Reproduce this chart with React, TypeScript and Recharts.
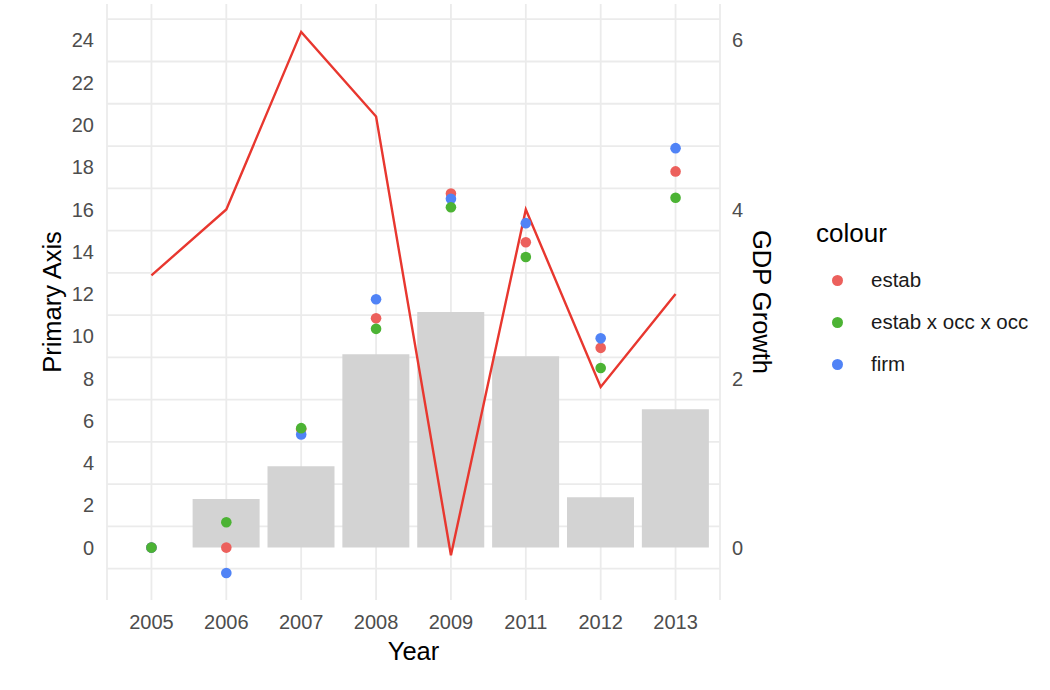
import {
  Bar,
  CartesianGrid,
  ComposedChart,
  Line,
  Scatter,
  XAxis,
  YAxis,
} from 'recharts';

const years = ['2005', '2006', '2007', '2008', '2009', '2011', '2012', '2013'];
// bar heights, in primary-axis units
const barValues = [null, 2.3, 3.85, 9.15, 11.15, 9.05, 2.38, 6.55];
// GDP growth, secondary axis units
const gdpGrowth = [3.22, 4.0, 6.1, 5.1, -0.09, 4.0, 1.9, 3.0];
const estab = [0, 0, 5.6, 10.85, 16.75, 14.45, 9.45, 17.8];
const estabOccOcc = [0, 1.2, 5.65, 10.35, 16.1, 13.75, 8.5, 16.55];
const firm = [0, -1.2, 5.35, 11.75, 16.5, 15.35, 9.9, 18.9];

const primaryTicks = [0, 2, 4, 6, 8, 10, 12, 14, 16, 18, 20, 22, 24];
const secondaryTicks = [0, 2, 4, 6];
const gridValues = [-2, -1, 0, 1, 2, 3, 4, 5, 6, 7, 8, 9, 10, 11, 12, 13, 14, 15, 16, 17, 18, 19, 20, 21, 22, 23, 24, 25];

const series = [
  { key: 'estab', name: 'estab', color: '#EC605C', values: estab },
  { key: 'firm', name: 'firm', color: '#5083F6', values: firm },
  { key: 'occ', name: 'estab x occ x occ', color: '#4CB334', values: estabOccOcc },
];
const legendOrder = ['estab', 'occ', 'firm'];

const data = years.map((year, i) => ({
  year,
  bar: barValues[i],
  gdp: gdpGrowth[i],
  estab: estab[i],
  occ: estabOccOcc[i],
  firm: firm[i],
}));

const FONT = '"Liberation Sans", Arial, Helvetica, sans-serif';
const tickStyle = { fill: '#4D4D4D', fontSize: 20, fontFamily: FONT };
const titleStyle = { fill: '#000', fontSize: 25.5, fontFamily: FONT };

const dot = (color: string) => (props: any) => (
  <circle cx={props.cx} cy={props.cy} r={5.3} fill={color} />
);

export default function App() {
  return (
    <div style={{ position: 'absolute', left: 0, top: 0, width: 1050, height: 690, background: '#fff', fontFamily: FONT }}>
      <ComposedChart
        width={1050}
        height={690}
        data={data}
        margin={{ top: 4, right: 270, bottom: 28, left: 47 }}
        barCategoryGap="5%"
      >
        <CartesianGrid
          yAxisId="left"
          horizontalValues={gridValues}
          stroke="#EBEBEB"
          strokeWidth={1.8}
        />
        <XAxis
          dataKey="year"
          height={62}
          padding={{ left: 7, right: 7 }}
          axisLine={false}
          tickLine={false}
          tickSize={4}
          tickMargin={11}
          tick={tickStyle}
          label={{ value: 'Year', position: 'insideBottom', offset: 2, ...titleStyle }}
        />
        <YAxis
          yAxisId="left"
          width={60}
          domain={[-2.48, 25.72]}
          ticks={primaryTicks}
          allowDataOverflow
          axisLine={false}
          tickLine={false}
          tickSize={4}
          tickMargin={9}
          tick={tickStyle}
          label={{ value: 'Primary Axis', angle: -90, position: 'center', dx: -25, ...titleStyle }}
        />
        <YAxis
          yAxisId="right"
          orientation="right"
          width={60}
          domain={[-0.62, 6.43]}
          ticks={secondaryTicks}
          allowDataOverflow
          axisLine={false}
          tickLine={false}
          tickSize={4}
          tickMargin={8}
          tick={tickStyle}
          label={{ value: 'GDP Growth', angle: 90, position: 'center', dx: 12, ...titleStyle }}
        />
        <Bar yAxisId="left" dataKey="bar" fill="#D3D3D3" isAnimationActive={false} />
        <Line
          yAxisId="right"
          dataKey="gdp"
          type="linear"
          stroke="#E8372F"
          strokeWidth={2.4}
          dot={false}
          activeDot={false}
          isAnimationActive={false}
        />
        {series.map((s) => (
          <Scatter
            key={s.key}
            yAxisId="left"
            dataKey={s.key}
            name={s.name}
            fill={s.color}
            shape={dot(s.color)}
            isAnimationActive={false}
          />
        ))}
      </ComposedChart>
      <div style={{ position: 'absolute', left: 816, top: 217, color: '#000' }}>
        <div style={{ fontSize: 26, lineHeight: '32px', height: 32 }}>colour</div>
        <div style={{ marginTop: 10 }}>
          {legendOrder.map((k) => {
            const s = series.find((x) => x.key === k)!;
            return (
              <div key={k} style={{ display: 'flex', alignItems: 'center', height: 42 }}>
                <span
                  style={{
                    display: 'inline-block',
                    width: 11,
                    height: 11,
                    borderRadius: '50%',
                    background: s.color,
                    marginLeft: 16,
                    marginRight: 28,
                  }}
                />
                <span style={{ fontSize: 20.5, color: '#1A1A1A' }}>{s.name}</span>
              </div>
            );
          })}
        </div>
      </div>
    </div>
  );
}
